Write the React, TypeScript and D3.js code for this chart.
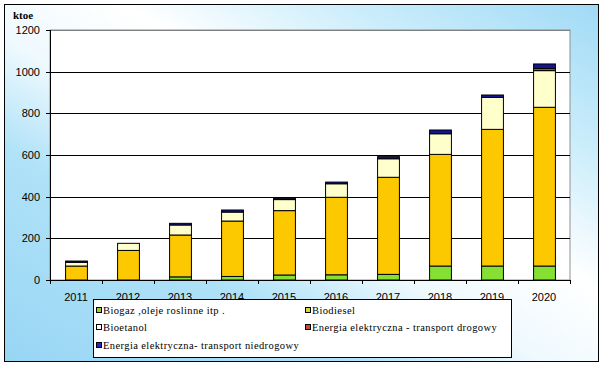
import React from "react";
import * as d3 from "d3";

const years = ["2011", "2012", "2013", "2014", "2015", "2016", "2017", "2018", "2019", "2020"];
const biogas = [0, 0, 15, 17, 24, 25, 27, 67, 67, 67];
const biodiesel = [67, 142, 201, 266, 309, 372, 466, 536, 656, 762];
const bioetanol = [18, 34, 48, 43, 53, 65, 89, 99, 153, 176];
const elektrDrogowy = [0, 0, 0, 0, 0, 0, 0, 0, 0, 10];
const elektrNiedrogowy = [6, 0, 8, 10, 6, 8, 10, 18, 12, 22];
const yTicks = [0, 200, 400, 600, 800, 1000, 1200];

const seriesNames = [
  "Biogaz ,oleje roslinne itp .",
  "Biodiesel",
  "Bioetanol",
  "Energia elektryczna - transport drogowy",
  "Energia elektryczna- transport niedrogowy",
];
const seriesValues = [biogas, biodiesel, bioetanol, elektrDrogowy, elektrNiedrogowy];
const colors = ["#86e034", "#fcc800", "#ffffcc", "#c04848", "#14148c"];
const legendColors = ["#9ccc3c", "#d8d83c", "#ffffff", "#cc4444", "#2424c8"];

const W = 603;
const H = 366;
const plot = { left: 50, right: 570, top: 30, bottom: 280 };

export default function App() {
  const rows = years.map((y, i) => {
    const r: any = { year: y };
    seriesNames.forEach((n, k) => (r[n] = seriesValues[k][i]));
    return r;
  });
  const stacked = d3.stack<any>().keys(seriesNames)(rows);

  const x = d3.scaleBand().domain(years).range([plot.left, plot.right])
    .paddingInner(0.58).paddingOuter(0.29);
  const xCat = d3.scaleBand().domain(years).range([plot.left, plot.right]);
  const y = d3.scaleLinear().domain([0, 1200]).range([plot.bottom, plot.top]);

  const legendPos = [
    [96, 314], [305, 314], [96, 331], [305, 331], [96, 349],
  ];

  return (
    <svg width={W} height={H} style={{ position: "absolute", left: 0, top: 0 }}>
      <defs>
        <linearGradient id="bg" x1="0" y1="1" x2="1" y2="0">
          <stop offset="0" stopColor="#98d6f4" />
          <stop offset="0.3" stopColor="#b0e2f8" />
          <stop offset="0.45" stopColor="#eef9fe" />
          <stop offset="0.6" stopColor="#ffffff" />
          <stop offset="0.78" stopColor="#cdeefb" />
          <stop offset="1" stopColor="#a0daf6" />
        </linearGradient>
      </defs>
      <rect x={0} y={0} width={W} height={H} fill="#ffffff" />
      <rect x={4.5} y={4.5} width={594} height={357} fill="url(#bg)" stroke="#000" strokeWidth={1} />

      <rect x={plot.left} y={plot.top} width={plot.right - plot.left} height={plot.bottom - plot.top}
        fill="#ffffff" stroke="#909090" strokeWidth={1} />

      {yTicks.map((t) => (
        <g key={t}>
          {t > 0 && (
            <line x1={plot.left} x2={plot.right} y1={Math.round(y(t)) + 0.5} y2={Math.round(y(t)) + 0.5}
              stroke={t === 1200 ? "#808080" : "#000"} strokeWidth={1} />
          )}
          <line x1={plot.left - 4} x2={plot.left} y1={Math.round(y(t)) + 0.5} y2={Math.round(y(t)) + 0.5} stroke="#000" />
          <text x={40} y={y(t) + 4} textAnchor="end" fontFamily="Liberation Sans, Arial, sans-serif" fontSize={11} fill="#000">
            {t}
          </text>
        </g>
      ))}

      {stacked.map((s, k) => (
        <g key={k}>
          {s.map((d, i) => {
            const h = y(d[0]) - y(d[1]);
            if (h <= 0) return null;
            return (
              <rect key={i} x={x(years[i])! + 0.5} y={y(d[1])} width={x.bandwidth()} height={h}
                fill={colors[k]} stroke="#000" strokeWidth={1} />
            );
          })}
        </g>
      ))}

      <line x1={plot.left + 0.5} x2={plot.left + 0.5} y1={plot.top} y2={plot.bottom} stroke="#000" />
      <line x1={plot.left} x2={plot.right} y1={plot.bottom + 0.5} y2={plot.bottom + 0.5} stroke="#000" />
      {years.concat(["end"]).map((yr, i) => {
        const xx = i < years.length ? xCat(yr)! : plot.right;
        return <line key={i} x1={Math.round(xx) + 0.5} x2={Math.round(xx) + 0.5} y1={plot.bottom} y2={plot.bottom + 4} stroke="#000" />;
      })}
      {years.map((yr) => (
        <text key={yr} x={xCat(yr)! + xCat.bandwidth() / 2} y={301} textAnchor="middle"
          fontFamily="Liberation Sans, Arial, sans-serif" fontSize={11} fill="#000">
          {yr}
        </text>
      ))}

      <text x={13} y={19} fontFamily="Liberation Serif, Times New Roman, serif" fontWeight="bold" fontSize={11} fill="#000">
        ktoe
      </text>

      <rect x={93.5} y={299.5} width={418} height={58} fill="#ffffff" stroke="#000" strokeWidth={1} />
      {seriesNames.map((n, k) => (
        <g key={n}>
          <rect x={legendPos[k][0] + 0.5} y={legendPos[k][1] - 6.5} width={5} height={5}
            fill={legendColors[k]} stroke="#000" strokeWidth={1} />
          <text x={legendPos[k][0] + 7} y={legendPos[k][1]} fontFamily="Liberation Serif, Times New Roman, serif"
            fontSize={10.5} letterSpacing={0.4} fill="#000">
            {n}
          </text>
        </g>
      ))}
    </svg>
  );
}
